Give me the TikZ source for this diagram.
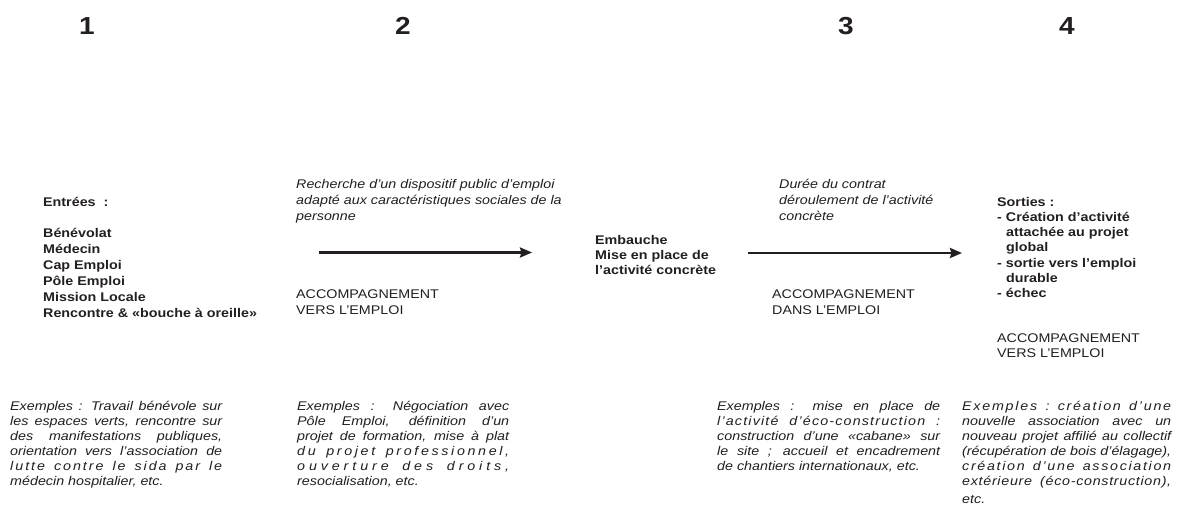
\documentclass[tikz,border=0pt]{standalone}
\usepackage{fontspec}
\setmainfont{Liberation Sans}
\usetikzlibrary{arrows.meta}
\definecolor{ink}{HTML}{231F20}
% text block: width, baselineskip (unsquashed), content; squashed vertically like the reference
\newcommand{\tbox}[3]{\scalebox{1}[0.88]{\parbox[t]{#1}{\fontsize{14.3}{#2}\selectfont #3}}}
\newcommand{\jl}[1]{\makebox[\linewidth][s]{#1}\\}
\newcommand{\numtxt}[1]{\scalebox{1}[0.88]{#1}}
% letter gap and word gaps for letter-spaced justified lines
\newcommand{\lgap}{\hspace{0pt plus 1fil}}
\newcommand{\wgap}{\hspace{3.97pt plus 2.5fil}}
\newcommand{\wgapb}{\hspace{3.97pt plus 6fil}}
\begin{document}
\begin{tikzpicture}[x=1pt,y=-1pt,
  txt/.style={inner sep=0pt, anchor=base west, text=ink, font=\fontsize{14.3}{17}\selectfont},
  bld/.style={txt, font=\fontsize{14.3}{17}\selectfont\bfseries},
  itl/.style={txt, font=\fontsize{14.3}{17}\selectfont\itshape},
  num/.style={inner sep=0pt, anchor=base, text=ink, font=\fontsize{28}{32}\selectfont\bfseries},
  arr/.style={draw=ink, line width=2.4pt, -{Stealth[length=12pt,width=10pt,inset=1.5pt]}}]
\fill[white] (0,0) rectangle (1178,504);
\useasboundingbox (0,0) rectangle (1178,504);

% column numbers
\node[num] (n1) at (87,34) {\numtxt{1}};
\node[num] (n2) at (403,34) {\numtxt{2}};
\node[num] (n3) at (846,34) {\numtxt{3}};
\node[num] (n4) at (1067,34) {\numtxt{4}};

% column 1
\node[bld] (entrees) at (43,206.5) {\tbox{100pt}{18}{Entrées\ \ :}};
\node[bld] (liste) at (43,237.5) {\tbox{260pt}{18.07}{Bénévolat\\Médecin\\Cap Emploi\\Pôle Emploi\\Mission Locale\\Rencontre \& «bouche à oreille»}};

% column 2
\node[itl] (recherche) at (296,188) {\tbox{290pt}{18.2}{Recherche d’un dispositif public d’emploi\\adapté aux caractéristiques sociales de la\\personne}};
\node[txt] (acc1) at (296,298) {\tbox{200pt}{18.2}{ACCOMPAGNEMENT\\VERS L’EMPLOI}};
\coordinate (a1s) at (319,252.5);
\coordinate (a1e) at (532,252.5);
\draw[arr] (a1s) -- (a1e);

% middle
\node[bld] (embauche) at (595,244) {\tbox{160pt}{17.6}{Embauche\\Mise en place de\\l’activité concrète}};

% column 3
\node[itl] (duree) at (779,188) {\tbox{190pt}{18.2}{Durée du contrat\\déroulement de l’activité\\concrète}};
\node[txt] (acc2) at (772,298) {\tbox{200pt}{18.2}{ACCOMPAGNEMENT\\DANS L’EMPLOI}};
\coordinate (a2s) at (748,253);
\coordinate (a2e) at (962,253);
\draw[arr] (a2s) -- (a2e);

% column 4
\node[bld] (sorties) at (997,206) {\tbox{180pt}{17.4}{Sorties :\\- Création d’activité\\\hspace*{9pt}attachée au projet\\\hspace*{9pt}global\\- sortie vers l’emploi\\\hspace*{9pt}durable\\- échec}};
\node[txt] (acc3) at (997,342) {\tbox{180pt}{17.6}{ACCOMPAGNEMENT\\VERS L’EMPLOI}};

% examples
\node[itl] (ex1) at (10,410.5) {\tbox{212pt}{17.05}{%
\jl{Exemples : Travail bénévole sur}%
\jl{les espaces verts, rencontre sur}%
\jl{des manifestations publiques,}%
\jl{orientation vers l’association de}%
\jl{l\lgap u\lgap t\lgap t\lgap e\wgap c\lgap o\lgap n\lgap t\lgap r\lgap e\wgap l\lgap e\wgap s\lgap i\lgap d\lgap a\wgap p\lgap a\lgap r\wgap l\lgap e}%
médecin hospitalier, etc.}};

\node[itl] (ex2) at (297,410.5) {\tbox{212pt}{17.05}{%
\jl{Exemples : Négociation avec}%
\jl{Pôle Emploi, définition d’un}%
\jl{projet de formation, mise à plat}%
\jl{d\lgap u\wgap p\lgap r\lgap o\lgap j\lgap e\lgap t\wgap p\lgap r\lgap o\lgap f\lgap e\lgap s\lgap s\lgap i\lgap o\lgap n\lgap n\lgap e\lgap l\lgap ,}%
\jl{o\lgap u\lgap v\lgap e\lgap r\lgap t\lgap u\lgap r\lgap e\wgap d\lgap e\lgap s\wgap d\lgap r\lgap o\lgap i\lgap t\lgap s\lgap ,}%
resocialisation, etc.}};

\node[itl] (ex3) at (717,410.5) {\tbox{223pt}{17.05}{%
\jl{Exemples : mise en place de}%
\jl{l\lgap ’\lgap a\lgap c\lgap t\lgap i\lgap v\lgap i\lgap t\lgap é\wgapb d\lgap ’\lgap é\lgap c\lgap o\lgap -\lgap c\lgap o\lgap n\lgap s\lgap t\lgap r\lgap u\lgap c\lgap t\lgap i\lgap o\lgap n\wgapb :}%
\jl{construction d’une «cabane» sur}%
\jl{le site ; accueil et encadrement}%
de chantiers internationaux, etc.}};

\node[itl] (ex4) at (962,410.5) {\tbox{209pt}{17.05}{%
\jl{E\lgap x\lgap e\lgap m\lgap p\lgap l\lgap e\lgap s\wgap :\wgap c\lgap r\lgap é\lgap a\lgap t\lgap i\lgap o\lgap n\wgap d\lgap ’\lgap u\lgap n\lgap e}%
\jl{nouvelle association avec un}%
\jl{nouveau projet affilié au collectif}%
\jl{(récupération de bois d’élagage),}%
\jl{c\lgap r\lgap é\lgap a\lgap t\lgap i\lgap o\lgap n\wgap d\lgap ’\lgap u\lgap n\lgap e\wgap a\lgap s\lgap s\lgap o\lgap c\lgap i\lgap a\lgap t\lgap i\lgap o\lgap n}%
\makebox[\linewidth][s]{e\lgap x\lgap t\lgap é\lgap r\lgap i\lgap e\lgap u\lgap r\lgap e\wgapb (\lgap é\lgap c\lgap o\lgap -\lgap c\lgap o\lgap n\lgap s\lgap t\lgap r\lgap u\lgap c\lgap t\lgap i\lgap o\lgap n\lgap )\lgap ,}\\[3pt]%
etc.}};
\end{tikzpicture}
\end{document}
